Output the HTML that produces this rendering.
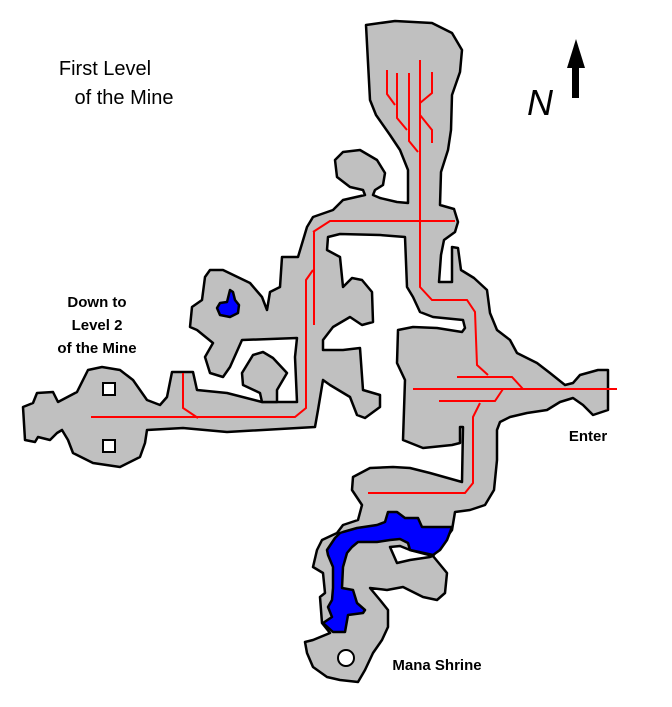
<!DOCTYPE html>
<html><head><meta charset="utf-8"><style>
html,body{margin:0;padding:0;background:#fff;}
svg{display:block;}
text{font-family:"Liberation Sans",sans-serif;fill:#000;}
</style></head><body>
<svg width="672" height="707" viewBox="0 0 672 707" xmlns="http://www.w3.org/2000/svg">
<rect width="672" height="707" fill="#fff"/>
<path fill="#c0c0c0" stroke="#000" stroke-width="2.5" stroke-linejoin="round" d="
M366,25 L395,21 L432,23 L452,33 L462,50 L460,72 L452,95 L451,130 L448,150 L441,172 L440,205 L454,209 L458,222 L455,232 L444,240 L441,255 L439,282 L452,282 L452,247 L458,248 L461,270 L474,278 L487,290 L490,313 L497,330 L510,340 L517,353 L537,363 L550,373 L565,385 L573,383 L580,375 L598,370 L608,370 L608,410 L593,415 L583,405 L573,398 L560,402 L547,410 L527,413 L510,417 L500,422 L497,430 L497,460 L494,490 L485,505 L470,510 L455,512 L452,530 L433,556 L447,573 L445,593 L437,600 L423,597 L403,587 L387,590 L370,588 L380,600 L388,610 L388,627 L382,640 L373,653 L365,670 L358,682 L340,680 L327,677 L313,667 L307,653 L305,642 L313,640 L330,633 L322,623 L320,597 L325,593 L323,573 L313,567 L317,550 L322,540 L337,533 L343,525 L358,520 L362,505 L352,490 L353,477 L370,468 L393,467 L410,468 L430,473 L462,482 L463,427 L460,427 L460,443 L452,445 L423,448 L403,440 L405,380 L397,363 L398,330 L413,327 L437,328 L462,332 L465,328 L463,320 L433,317 L420,312 L413,297 L407,287 L405,237 L380,235 L340,234 L328,237 L327,250 L340,257 L343,287 L352,278 L362,280 L372,292 L373,322 L362,325 L350,317 L333,327 L323,340 L323,350 L343,350 L360,348 L363,390 L380,395 L380,407 L365,418 L357,415 L350,397 L330,385 L323,380 L318,410 L315,427 L227,432 L183,428 L147,430 L145,443 L140,457 L120,467 L93,463 L73,453 L68,440 L62,430 L57,433 L50,440 L38,437 L35,442 L25,440 L23,407 L33,403 L37,393 L53,392 L58,402 L77,392 L88,370 L102,367 L120,370 L133,380 L147,400 L160,405 L167,397 L172,372 L193,372 L197,390 L227,393 L262,402 L297,402 L295,357 L297,338 L242,340 L230,367 L223,377 L210,373 L205,357 L213,343 L197,330 L190,327 L192,307 L202,300 L205,277 L210,270 L223,270 L250,283 L262,297 L267,310 L270,292 L280,287 L282,257 L298,257 L307,227 L313,217 L333,210 L343,200 L365,195 L363,190 L350,187 L337,177 L335,160 L343,152 L360,150 L377,160 L385,173 L383,185 L375,190 L373,195 L380,198 L397,202 L408,203 L408,170 L400,150 L390,135 L376,115 L370,100 Z"/>
<path fill="#c0c0c0" stroke="#000" stroke-width="2.5" stroke-linejoin="round" d="M253,355 L263,352 L273,358 L287,373 L277,390 L277,402 L262,402 L260,393 L243,385 L242,373 Z"/>
<path fill="#fff" stroke="#000" stroke-width="2.5" stroke-linejoin="round" d="M390,547 L397,563 L410,560 L430,557 L433,556 L410,550 L400,546 Z"/>
<path fill="#0000ff" stroke="#000" stroke-width="2.5" stroke-linejoin="round" d="M388,512 L397,512 L405,518 L418,518 L422,527 L452,527 L447,540 L440,550 L433,555 L410,550 L408,543 L400,539 L390,540 L377,542 L358,542 L352,547 L347,553 L343,567 L342,588 L353,590 L357,603 L365,610 L363,613 L348,615 L345,632 L333,632 L323,623 L332,617 L328,607 L332,600 L333,588 L333,567 L328,555 L327,550 L335,538 L340,533 L343,532 L357,528 L377,525 L385,522 Z"/>
<path fill="#0000ff" stroke="#000" stroke-width="2.5" stroke-linejoin="round" d="M230,290 L233,292 L235,300 L239,305 L238,313 L230,317 L220,315 L217,308 L220,303 L227,302 Z"/>
<rect x="103" y="383" width="12" height="12" fill="#fff" stroke="#000" stroke-width="2"/>
<rect x="103" y="440" width="12" height="12" fill="#fff" stroke="#000" stroke-width="2"/>
<ellipse cx="346" cy="658" rx="8" ry="8" fill="#fff" stroke="#000" stroke-width="2"/>
<g fill="none" stroke="#ff0000" stroke-width="2">
<polyline points="420,60 420,287 432,300 467,300 475,312 477,365 488,375"/>
<polyline points="387,70 387,94 395,105"/>
<polyline points="397,73 397,118 407,130"/>
<polyline points="409,73 409,141 418,152"/>
<polyline points="432,72 432,93 420,103"/>
<polyline points="420,115 432,130 432,143"/>
<polyline points="313,232 330,221 455,221"/>
<line x1="314" y1="232" x2="314" y2="325"/>
<polyline points="313,270 306,280 306,408 295,417 91,417"/>
<polyline points="183,373 183,408 198,418"/>
<polyline points="457,377 512,377 523,389"/>
<line x1="413" y1="389" x2="617" y2="389"/>
<polyline points="439,401 495,401 503,389"/>
<polyline points="480,403 473,417 473,483 465,493 368,493"/>
</g>
<polygon points="576,39 567,68 585,68" fill="#000"/>
<rect x="572" y="66" width="7" height="32" fill="#000"/>
<text x="540" y="115" font-family="Liberation Serif,serif" font-style="italic" font-size="36" text-anchor="middle">N</text>
<text x="105" y="75" font-size="20" text-anchor="middle">First Level</text>
<text x="124" y="104" font-size="20" text-anchor="middle">of the Mine</text>
<text x="97" y="307" font-size="15" font-weight="bold" text-anchor="middle">Down to</text>
<text x="97" y="330" font-size="15" font-weight="bold" text-anchor="middle">Level 2</text>
<text x="97" y="353" font-size="15" font-weight="bold" text-anchor="middle">of the Mine</text>
<text x="588" y="441" font-size="15" font-weight="bold" text-anchor="middle">Enter</text>
<text x="437" y="670" font-size="15" font-weight="bold" text-anchor="middle">Mana Shrine</text>
</svg>
</body></html>
